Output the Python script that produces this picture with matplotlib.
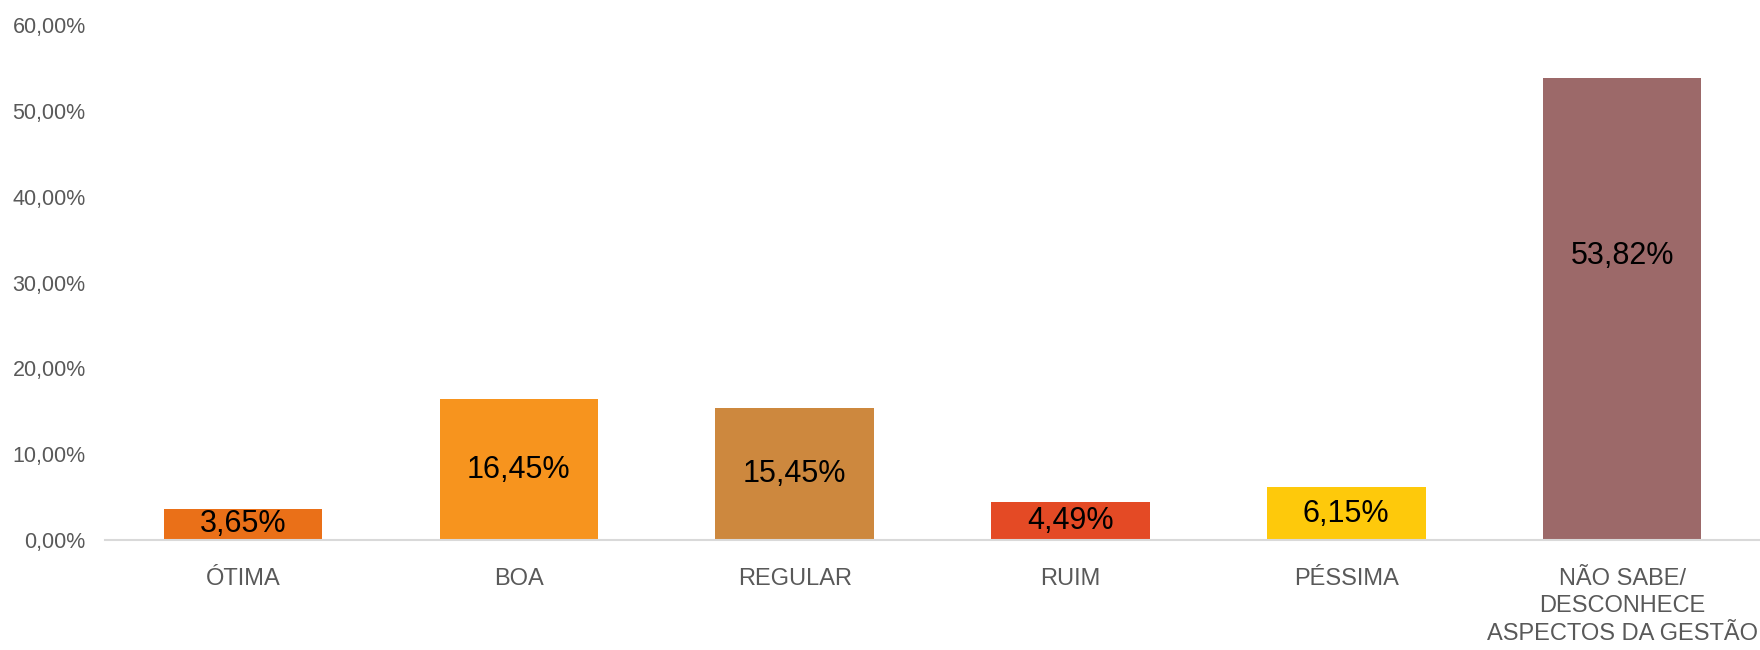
import matplotlib.pyplot as plt
from matplotlib.ticker import FuncFormatter

categories = ['ÓTIMA', 'BOA', 'REGULAR', 'RUIM', 'PÉSSIMA',
              'NÃO SABE/\nDESCONHECE\nASPECTOS DA GESTÃO']
values = [3.65, 16.45, 15.45, 4.49, 6.15, 53.82]
colors = ['#EA7018', '#F7941E', '#CD883E', '#E44A25', '#FEC90B', '#9C6969']
yticks = [0, 10, 20, 30, 40, 50, 60]

plt.rcParams['font.family'] = ['Liberation Sans', 'DejaVu Sans']

fig = plt.figure(figsize=(17.6, 6.5), dpi=100)
ax = fig.add_axes([0.0597, 0.169, 0.9403, 0.7925])

x = range(len(categories))
bars = ax.bar(x, values, width=0.575, color=colors)

# data labels (Excel puts the tall one above centre)
for i, (b, v) in enumerate(zip(bars, values)):
    ypos = v * 0.615 if v > 40 else v / 2
    ax.text(b.get_x() + b.get_width() / 2, ypos, f'{v:.2f}%'.replace('.', ','),
            ha='center', va='center', fontsize=22, color='black')

ax.set_xlim(-0.5, len(categories) - 0.5)
ax.set_ylim(0, 60)
ax.set_yticks(yticks)
ax.yaxis.set_major_formatter(FuncFormatter(lambda v, p: f'{v:.2f}%'.replace('.', ',')))
ax.set_xticks(list(x))
ax.set_xticklabels(categories, fontsize=17, color='#595959', linespacing=1.32)
ax.tick_params(axis='y', labelsize=15.5, labelcolor='#595959', length=0, pad=14)
ax.tick_params(axis='x', length=0, pad=20)

for s in ['top', 'right', 'left']:
    ax.spines[s].set_visible(False)
ax.spines['bottom'].set_color('#D9D9D9')
ax.spines['bottom'].set_linewidth(1.5)

fig.savefig('out.png', dpi=100)
